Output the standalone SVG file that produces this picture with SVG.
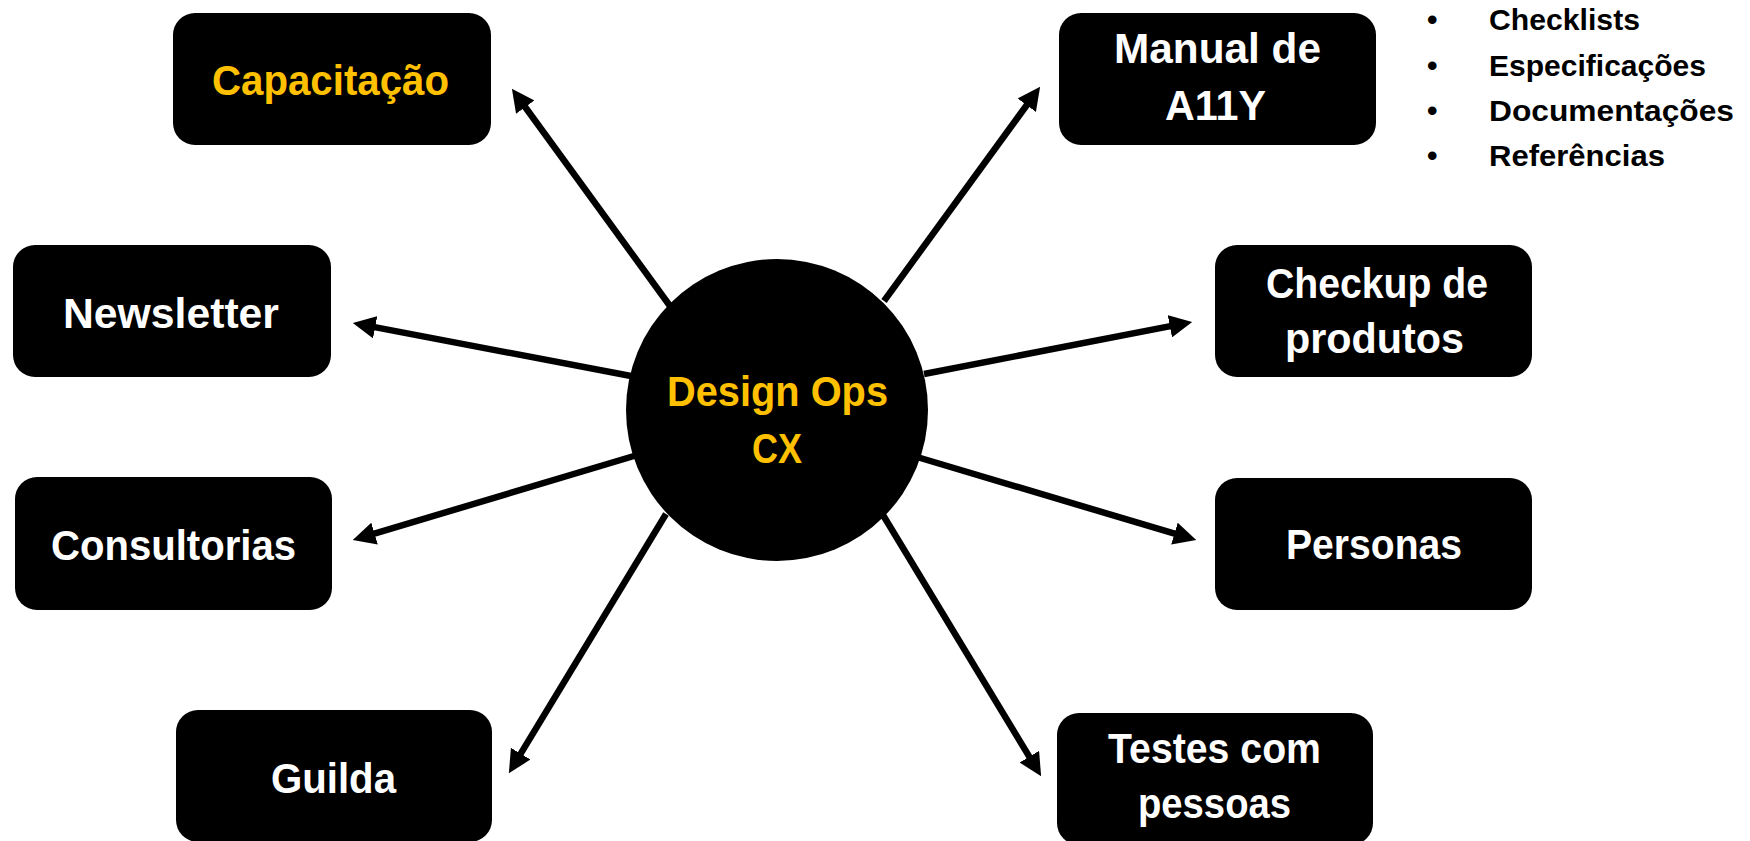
<svg xmlns="http://www.w3.org/2000/svg" width="1750" height="841" viewBox="0 0 1750 841">
<defs>
<style>
.box{fill:#000;}
.t{font-family:"Liberation Sans",Arial,sans-serif;font-weight:bold;font-size:43px;fill:#fff;text-anchor:middle;}
.o{fill:#FFC000;}
.b{font-family:"Liberation Sans",Arial,sans-serif;font-weight:bold;font-size:30px;fill:#000;}
.c{fill:none;stroke:#000;stroke-width:6.5;marker-end:url(#ah);}
</style>
<marker id="ah" viewBox="0 0 10 10" markerWidth="3.5" markerHeight="3.5" refX="2" refY="5" orient="auto" markerUnits="strokeWidth">
<path d="M0,0 L10,5 L0,10 z" fill="#000"/>
</marker>
</defs>
<rect width="1750" height="841" fill="#fff"/>
<g id="connectors">
<line class="c" x1="670" y1="306" x2="522.6" y2="103.5"/>
<line class="c" x1="631" y1="376" x2="370.7" y2="326.4"/>
<line class="c" x1="634" y1="456" x2="370.2" y2="534.9"/>
<line class="c" x1="666" y1="514" x2="518.3" y2="757.6"/>
<line class="c" x1="884" y1="301" x2="1029.4" y2="101.5"/>
<line class="c" x1="924" y1="374" x2="1174.3" y2="325.4"/>
<line class="c" x1="917" y1="457" x2="1178.8" y2="534.9"/>
<line class="c" x1="883" y1="515" x2="1031.7" y2="760.6"/>
</g>
<g id="center">
<circle cx="777" cy="410" r="151" fill="#000"/>
<text class="t o" x="777.5" y="406" textLength="221" lengthAdjust="spacingAndGlyphs">Design Ops</text>
<text class="t o" x="777" y="463" textLength="50" lengthAdjust="spacingAndGlyphs">CX</text>
</g>
<g id="capacitacao">
<rect class="box" x="173" y="13" width="318" height="132" rx="22"/>
<text class="t o" x="330.5" y="95" textLength="237" lengthAdjust="spacingAndGlyphs">Capacitação</text>
</g>
<g id="newsletter">
<rect class="box" x="13" y="245" width="318" height="132" rx="22"/>
<text class="t" x="171" y="328" textLength="216" lengthAdjust="spacingAndGlyphs">Newsletter</text>
</g>
<g id="consultorias">
<rect class="box" x="15" y="477" width="317" height="133" rx="22"/>
<text class="t" x="173.5" y="560" textLength="245" lengthAdjust="spacingAndGlyphs">Consultorias</text>
</g>
<g id="guilda">
<rect class="box" x="176" y="710" width="316" height="132" rx="22"/>
<text class="t" x="333.5" y="793" textLength="125" lengthAdjust="spacingAndGlyphs">Guilda</text>
</g>
<g id="manual">
<rect class="box" x="1059" y="13" width="317" height="132" rx="22"/>
<text class="t" x="1217.5" y="63" textLength="207" lengthAdjust="spacingAndGlyphs">Manual de</text>
<text class="t" x="1215.5" y="120" textLength="101" lengthAdjust="spacingAndGlyphs">A11Y</text>
</g>
<g id="checkup">
<rect class="box" x="1215" y="245" width="317" height="132" rx="22"/>
<text class="t" x="1377" y="298" textLength="222" lengthAdjust="spacingAndGlyphs">Checkup de</text>
<text class="t" x="1374.5" y="353" textLength="179" lengthAdjust="spacingAndGlyphs">produtos</text>
</g>
<g id="personas">
<rect class="box" x="1215" y="478" width="317" height="132" rx="22"/>
<text class="t" x="1374" y="559" textLength="176" lengthAdjust="spacingAndGlyphs">Personas</text>
</g>
<g id="testes">
<rect class="box" x="1057" y="713" width="316" height="132" rx="22"/>
<text class="t" x="1214.5" y="763" textLength="213" lengthAdjust="spacingAndGlyphs">Testes com</text>
<text class="t" x="1214.5" y="818" textLength="153" lengthAdjust="spacingAndGlyphs">pessoas</text>
</g>
<g id="manual-list">
<text class="b" x="1427" y="30">•</text>
<text class="b" x="1489" y="30" textLength="151" lengthAdjust="spacingAndGlyphs">Checklists</text>
<text class="b" x="1427" y="76">•</text>
<text class="b" x="1489" y="76" textLength="217" lengthAdjust="spacingAndGlyphs">Especificações</text>
<text class="b" x="1427" y="121">•</text>
<text class="b" x="1489" y="121" textLength="245" lengthAdjust="spacingAndGlyphs">Documentações</text>
<text class="b" x="1427" y="166">•</text>
<text class="b" x="1489" y="166" textLength="176" lengthAdjust="spacingAndGlyphs">Referências</text>
</g>
</svg>
